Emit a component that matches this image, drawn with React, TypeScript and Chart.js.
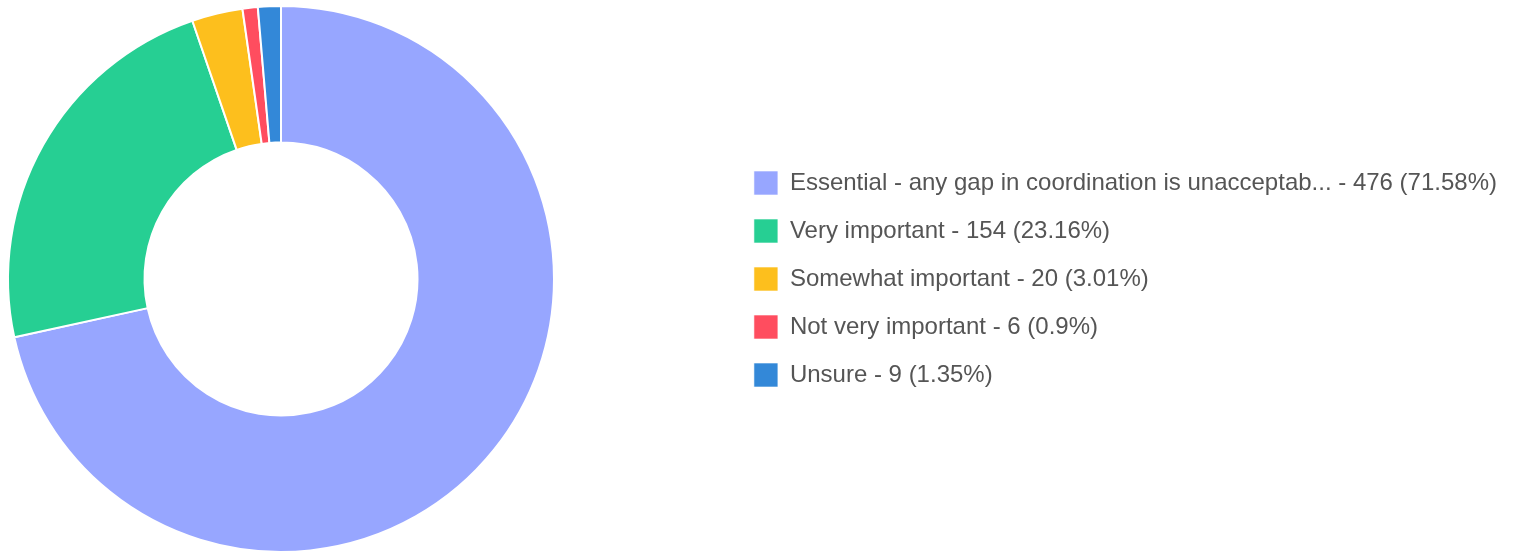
import React, { useEffect, useRef } from 'react';
import { Chart, registerables, layouts } from 'chart.js';

Chart.register(...registerables);

// ---- data ----
const categories = [
  'Essential - any gap in coordination is unacceptab...',
  'Very important',
  'Somewhat important',
  'Not very important',
  'Unsure',
];
const responses = [476, 154, 20, 6, 9];
const sliceColors = ['#97a6ff', '#26cf93', '#fdbf1d', '#ff4d5f', '#3388d8'];

const total = responses.reduce((a, b) => a + b, 0);
const legendLabels = categories.map(
  (c, i) => `${c} - ${responses[i]} (${Number(((responses[i] / total) * 100).toFixed(2))}%)`
);

const PAD = { left: 7, top: 5, right: 8, bottom: 0 };
const DONUT_SIZE = 548;

// a blank layout box placed between the doughnut area and the legend
const spacerPlugin = {
  id: 'legendSpacer',
  beforeInit(chart: any) {
    const box: any = {
      position: 'right',
      weight: 500,
      fullSize: false,
      options: {},
      top: 0,
      left: 0,
      right: 0,
      bottom: 0,
      width: 0,
      height: 0,
      isHorizontal() {
        return false;
      },
      update(_maxW: number, maxH: number) {
        const lg = chart.legend;
        const lw = lg ? lg.width : 0;
        this.width = Math.max(0, chart.width - PAD.left - PAD.right - DONUT_SIZE - lw);
        this.height = maxH;
      },
      draw() {},
    };
    layouts.addBox(chart, box);
  },
};

export default function App() {
  const canvasRef = useRef<HTMLCanvasElement | null>(null);

  useEffect(() => {
    if (!canvasRef.current) return;
    const chart = new Chart(canvasRef.current, {
      type: 'doughnut',
      data: {
        labels: legendLabels,
        datasets: [
          {
            data: responses,
            backgroundColor: sliceColors,
            borderColor: '#ffffff',
            borderWidth: 2,
            hoverOffset: 0,
          },
        ],
      },
      options: {
        responsive: false,
        animation: false,
        cutout: '50%',
        layout: { padding: PAD },
        plugins: {
          tooltip: { enabled: false },
          legend: {
            position: 'right',
            align: 'center',
            maxWidth: 1200,
            labels: {
              font: { family: '"Liberation Sans", Arial, sans-serif', size: 24 },
              color: '#555555',
              boxWidth: 24,
              boxHeight: 24,
              padding: 24,
              generateLabels: () =>
                legendLabels.map((t, i) => ({
                  text: t,
                  fillStyle: sliceColors[i],
                  strokeStyle: 'rgba(255,255,255,0.6)',
                  lineWidth: 1,
                  hidden: false,
                  index: i,
                  fontColor: '#555555',
                })),
            },
          },
        },
      },
      plugins: [spacerPlugin as any],
    });
    return () => chart.destroy();
  }, []);

  return (
    <div style={{ position: 'absolute', left: 0, top: 0, width: 1515, height: 553, background: '#ffffff' }}>
      <canvas ref={canvasRef} width={1515} height={553} style={{ display: 'block', width: 1515, height: 553 }} />
    </div>
  );
}
